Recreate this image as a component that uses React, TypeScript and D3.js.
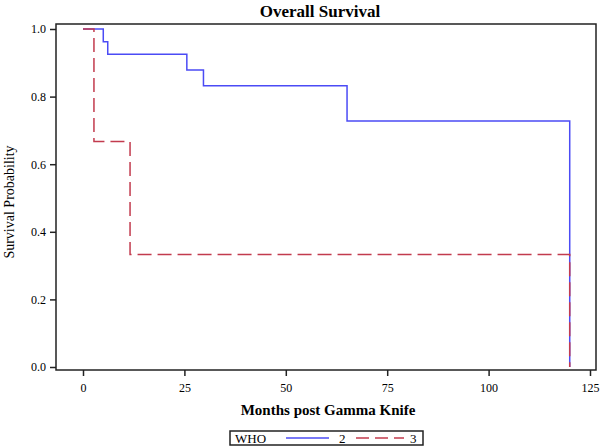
import React, { useEffect, useRef } from 'react';
import * as d3 from 'd3';

// step points: [months, survival]
const who2Times = [0, 5, 6.1, 25.6, 29.7, 65.1, 120, 120];
const who2Surv = [1.0, 0.962, 0.925, 0.879, 0.832, 0.728, 0.728, 0.0];
const who3Times = [0, 2.7, 11.6, 120, 120];
const who3Surv = [1.0, 0.667, 0.333, 0.333, 0.0];

const xTicks = [0, 25, 50, 75, 100, 125];
const yTicks = [0.0, 0.2, 0.4, 0.6, 0.8, 1.0];

const BLUE = '#4b4bf5';
const RED = '#c23b4e';
const FONT = '"Liberation Serif", "Times New Roman", serif';

const App = () => {
    const ref = useRef<HTMLDivElement>(null);

    useEffect(() => {
        const width = 600;
        const height = 446;
        const frame = { left: 56, right: 596, top: 24, bottom: 370 };

        document.body.style.margin = '0';
        d3.select(ref.current).selectAll('*').remove();

        const svg = d3
            .select(ref.current)
            .append('svg')
            .attr('width', width)
            .attr('height', height)
            .style('display', 'block')
            .style('font-family', FONT);

        const x = d3.scaleLinear().domain([0, 125]).range([83, 590]);
        const y = d3.scaleLinear().domain([0, 1]).range([367, 29]);

        // frame
        svg.append('rect')
            .attr('x', frame.left)
            .attr('y', frame.top)
            .attr('width', frame.right - frame.left)
            .attr('height', frame.bottom - frame.top)
            .attr('fill', 'none')
            .attr('stroke', '#222')
            .attr('stroke-width', 1.5);

        // axes
        svg.append('g')
            .attr('transform', `translate(0,${frame.bottom})`)
            .call(d3.axisBottom(x).tickValues(xTicks).tickSize(6).tickSizeOuter(0).tickPadding(7))
            .call((g) => g.select('.domain').remove())
            .call((g) => g.selectAll('line').attr('stroke', '#222').attr('stroke-width', 1.5))
            .selectAll('text')
            .style('font-family', FONT)
            .style('font-size', '12px')
            .attr('fill', '#000');

        svg.append('g')
            .attr('transform', `translate(${frame.left},0)`)
            .call(d3.axisLeft(y).tickValues(yTicks).tickFormat(d3.format('.1f')).tickSize(6).tickSizeOuter(0).tickPadding(4))
            .call((g) => g.select('.domain').remove())
            .call((g) => g.selectAll('line').attr('stroke', '#222').attr('stroke-width', 1.5))
            .selectAll('text')
            .style('font-family', FONT)
            .style('font-size', '12px')
            .attr('fill', '#000');

        const line = d3
            .line<[number, number]>()
            .x((d) => x(d[0]))
            .y((d) => y(d[1]))
            .curve(d3.curveStepAfter);

        const who2 = who2Times.map((t, i) => [t, who2Surv[i]] as [number, number]);
        const who3 = who3Times.map((t, i) => [t, who3Surv[i]] as [number, number]);

        svg.append('path')
            .datum(who2)
            .attr('fill', 'none')
            .attr('stroke', BLUE)
            .attr('stroke-width', 1.5)
            .attr('d', line);

        svg.append('path')
            .datum(who3)
            .attr('fill', 'none')
            .attr('stroke', RED)
            .attr('stroke-width', 1.5)
            .attr('stroke-dasharray', '14,6')
            .attr('d', line);

        // title and labels
        svg.append('text')
            .attr('x', 320)
            .attr('y', 17)
            .attr('text-anchor', 'middle')
            .style('font-size', '17px')
            .style('font-weight', 'bold')
            .text('Overall Survival');

        svg.append('text')
            .attr('x', 328)
            .attr('y', 415)
            .attr('text-anchor', 'middle')
            .style('font-size', '15px')
            .style('font-weight', 'bold')
            .text('Months post Gamma Knife');

        svg.append('text')
            .attr('transform', `translate(14,${y(0.5) + 4}) rotate(-90)`)
            .attr('text-anchor', 'middle')
            .style('font-size', '14px')
            .text('Survival Probability');

        // legend
        const lg = svg.append('g').style('font-size', '13px');
        lg.append('rect')
            .attr('x', 230)
            .attr('y', 431)
            .attr('width', 193)
            .attr('height', 14)
            .attr('fill', 'none')
            .attr('stroke', '#222')
            .attr('stroke-width', 1.5);
        lg.append('text').attr('x', 235).attr('y', 443).text('WHO');
        lg.append('line').attr('x1', 286).attr('x2', 329).attr('y1', 438).attr('y2', 438)
            .attr('stroke', BLUE).attr('stroke-width', 1.5);
        lg.append('text').attr('x', 339).attr('y', 443).text('2');
        lg.append('line').attr('x1', 356).attr('x2', 404).attr('y1', 438).attr('y2', 438)
            .attr('stroke', RED).attr('stroke-width', 1.5).attr('stroke-dasharray', '13,6');
        lg.append('text').attr('x', 410).attr('y', 443).text('3');
    }, []);

    return <div ref={ref}></div>;
};

export default App;
